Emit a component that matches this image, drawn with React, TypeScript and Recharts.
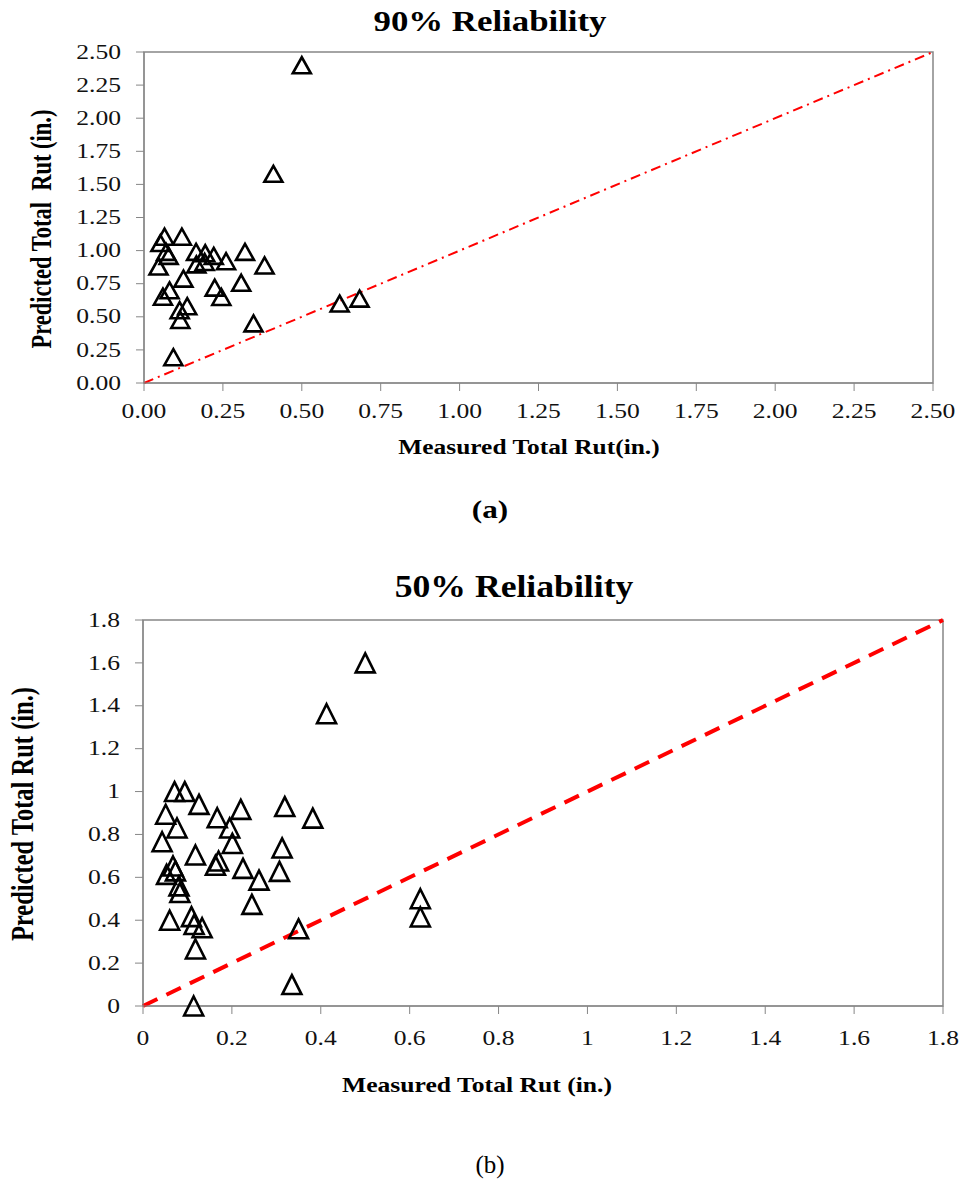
import React from 'react';
import {
  ScatterChart,
  Scatter,
  XAxis,
  YAxis,
  ReferenceLine,
  ReferenceArea,
} from 'recharts';

// (a) 90% reliability
const measuredA = [
  0.5, 0.41, 0.065, 0.12, 0.052, 0.07, 0.078, 0.046, 0.165, 0.194, 0.221, 0.166, 0.192,
  0.26, 0.32, 0.382, 0.125, 0.081, 0.06, 0.224, 0.245, 0.308, 0.137, 0.113, 0.115, 0.347,
  0.62, 0.683, 0.093,
];
const predictedA = [
  2.4, 1.58, 1.105, 1.105, 1.057, 0.99, 0.96, 0.88, 0.99, 0.98, 0.96, 0.896, 0.914,
  0.92, 0.99, 0.888, 0.788, 0.7, 0.652, 0.72, 0.65, 0.757, 0.58, 0.55, 0.476, 0.45,
  0.6, 0.637, 0.195,
];
const ticksA = [0, 0.25, 0.5, 0.75, 1, 1.25, 1.5, 1.75, 2, 2.25, 2.5];
const lineA = [{ x: 0, y: 0 }, { x: 2.5, y: 2.5 }];

// (b) 50% reliability
const measuredB = [
  0.5, 0.413, 0.071, 0.094, 0.126, 0.22, 0.319, 0.051, 0.167, 0.382, 0.0765, 0.195,
  0.043, 0.201, 0.313, 0.118, 0.17, 0.163, 0.0675, 0.225, 0.307, 0.053, 0.073, 0.261,
  0.081, 0.083, 0.245, 0.06, 0.109, 0.115, 0.133, 0.35, 0.118, 0.335, 0.114, 0.624, 0.624,
];
const predictedB = [
  1.6, 1.363, 1.0, 1.0, 0.94, 0.917, 0.93, 0.894, 0.878, 0.876, 0.83, 0.83,
  0.766, 0.758, 0.737, 0.704, 0.676, 0.656, 0.653, 0.642, 0.628, 0.614, 0.63, 0.587,
  0.56, 0.529, 0.474, 0.4, 0.417, 0.38, 0.365, 0.36, 0.266, 0.1, 0, 0.5, 0.415,
];
const ticksB = [0, 0.2, 0.4, 0.6, 0.8, 1, 1.2, 1.4, 1.6, 1.8];
const lineB = [{ x: 0, y: 0 }, { x: 1.8, y: 1.8 }];

const pointsA = measuredA.map((x, i) => ({ x, y: predictedA[i] }));
const pointsB = measuredB.map((x, i) => ({ x, y: predictedB[i] }));

const SERIF = '"Liberation Serif", "Times New Roman", serif';
const GRAY = '#868686';

const triangle = (w: number, h: number) => (props: any) => {
  const { cx, cy } = props;
  return (
    <path
      d={`M${cx},${cy - h / 2}L${cx + w / 2},${cy + h / 2}L${cx - w / 2},${cy + h / 2}Z`}
      fill="none"
      stroke="#000"
      strokeWidth={2.6}
    />
  );
};

const makeTick = (fmt: (v: number) => string, anchor: 'middle' | 'end', dy: string) =>
  (props: any) => (
    <g transform={`translate(${props.x},${props.y})`}>
      <text
        transform="scale(1.28,1)"
        textAnchor={anchor}
        dy={dy}
        fontFamily={SERIF}
        fontSize={20}
        fill="#111"
      >
        {fmt(props.payload.value)}
      </text>
    </g>
  );

const fixed2 = (v: number) => v.toFixed(2);
const plain = (v: number) => String(v);

const textStyle: React.CSSProperties = {
  position: 'absolute',
  whiteSpace: 'nowrap',
  fontFamily: SERIF,
  lineHeight: 1,
  color: '#000',
};

export default function App() {
  return (
    <div style={{ position: 'absolute', left: 0, top: 0, width: 964, height: 1184, background: '#fff' }}>
      {/* chart (a) */}
      <div style={{ position: 'absolute', left: 0, top: 0 }}>
        <ScatterChart width={964} height={440} margin={{ top: 52, right: 31, bottom: 0, left: 0 }}>
          <XAxis
            type="number"
            dataKey="x"
            domain={[0, 2.5]}
            ticks={ticksA}
            interval={0}
            height={57}
            tickSize={8}
            tickMargin={13}
            stroke={GRAY}
            tick={makeTick(fixed2, 'middle', '0.71em')}
          />
          <YAxis
            type="number"
            dataKey="y"
            domain={[0, 2.5]}
            ticks={ticksA}
            interval={0}
            width={144}
            tickSize={8}
            tickMargin={15}
            stroke={GRAY}
            tick={makeTick(fixed2, 'end', '0.33em')}
          />
          <ReferenceArea x1={0} x2={2.5} y1={0} y2={2.5} fill="none" stroke={GRAY} strokeWidth={1.5} />
          <ReferenceLine
            segment={lineA}
            stroke="#ff0000"
            strokeWidth={2}
            strokeDasharray="10 5 2 5"
          />
          <Scatter data={pointsA} shape={triangle(18, 16)} isAnimationActive={false} />
        </ScatterChart>
      </div>

      {/* chart (b) */}
      <div style={{ position: 'absolute', left: 0, top: 560 }}>
        <ScatterChart width={964} height={500} margin={{ top: 60, right: 21, bottom: 0, left: 0 }}>
          <XAxis
            type="number"
            dataKey="x"
            domain={[0, 1.8]}
            ticks={ticksB}
            interval={0}
            height={54}
            tickSize={8}
            tickMargin={17}
            stroke={GRAY}
            tick={makeTick(plain, 'middle', '0.71em')}
          />
          <YAxis
            type="number"
            dataKey="y"
            domain={[0, 1.8]}
            ticks={ticksB}
            interval={0}
            width={143}
            tickSize={8}
            tickMargin={15}
            stroke={GRAY}
            tick={makeTick(plain, 'end', '0.33em')}
          />
          <ReferenceArea x1={0} x2={1.8} y1={0} y2={1.8} fill="none" stroke={GRAY} strokeWidth={1.5} />
          <ReferenceLine segment={lineB} stroke="#ff0000" strokeWidth={4} strokeDasharray="16 10" />
          <Scatter data={pointsB} shape={triangle(19, 19)} isAnimationActive={false} />
        </ScatterChart>
      </div>

      {/* titles and labels */}
      <div style={{ ...textStyle, left: 490, top: 7.4, fontSize: 29, fontWeight: 'bold', transform: 'translateX(-50%) scaleX(1.2)' }}>
        90% Reliability
      </div>
      <div style={{ ...textStyle, left: 41.5, top: 229, fontSize: 22.5, fontWeight: 'bold', transform: 'translate(-50%,-50%) rotate(-90deg) scaleY(1.3)' }}>
        Predicted Total&nbsp; Rut (in.)
      </div>
      <div style={{ ...textStyle, left: 529, top: 437, fontSize: 20, fontWeight: 'bold', transform: 'translateX(-50%) scaleX(1.27)' }}>
        Measured Total Rut(in.)
      </div>
      <div style={{ ...textStyle, left: 490, top: 496.5, fontSize: 26, fontWeight: 'bold', transform: 'translateX(-50%) scaleX(1.2)' }}>
        (a)
      </div>

      <div style={{ ...textStyle, left: 514, top: 570.7, fontSize: 31, fontWeight: 'bold', transform: 'translateX(-50%) scaleX(1.15)' }}>
        50% Reliability
      </div>
      <div style={{ ...textStyle, left: 22.5, top: 814, fontSize: 24.5, fontWeight: 'bold', transform: 'translate(-50%,-50%) rotate(-90deg) scaleY(1.3)' }}>
        Predicted Total Rut (in.)
      </div>
      <div style={{ ...textStyle, left: 477, top: 1075.4, fontSize: 21, fontWeight: 'bold', transform: 'translateX(-50%) scaleX(1.22)' }}>
        Measured Total Rut (in.)
      </div>
      <div style={{ ...textStyle, left: 490, top: 1151.5, fontSize: 25, transform: 'translateX(-50%)' }}>
        (b)
      </div>
    </div>
  );
}
